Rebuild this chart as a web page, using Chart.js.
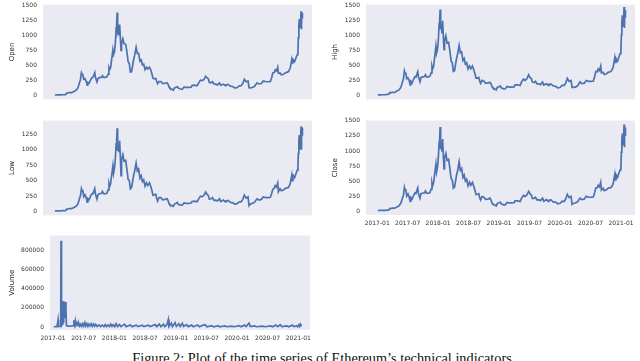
<!DOCTYPE html>
<html>
<head>
<title>Ethereum technical indicators</title>
<script src="https://cdn.jsdelivr.net/npm/chart.js"></script>
<style>
  body { margin: 0; background: #fff; width: 640px; height: 361px; overflow: hidden; position: relative; }
  canvas { position: absolute; }
  #caption { position: absolute; left: 0; width: 644px; top: 351px; text-align: center;
    font-family: "Liberation Serif", serif; font-size: 14.3px; line-height: 1; color: #111; white-space: nowrap; }
</style>
</head>
<body>
<canvas id="openChart" width="316" height="114" style="left:0;top:-5px"></canvas>
<canvas id="highChart" width="316" height="114" style="left:323px;top:-5px"></canvas>
<canvas id="lowChart" width="316" height="114" style="left:0;top:111px"></canvas>
<canvas id="closeChart" width="316" height="121" style="left:323px;top:111px"></canvas>
<canvas id="volumeChart" width="316" height="121" style="left:0;top:226px"></canvas>
<div id="caption">Figure 2: Plot of the time series of Ethereum’s technical indicators</div>
<script>
const priceDates = [
  "2017-01-05","2017-01-20","2017-02-05","2017-02-20","2017-03-01","2017-03-10","2017-03-16","2017-03-22","2017-04-01","2017-04-15",
  "2017-04-28","2017-05-10","2017-05-20","2017-05-26","2017-06-01","2017-06-06","2017-06-12","2017-06-16","2017-06-20","2017-06-26",
  "2017-07-03","2017-07-10","2017-07-16","2017-07-20","2017-07-28","2017-08-05","2017-08-14","2017-08-20","2017-08-31","2017-09-04",
  "2017-09-14","2017-09-20","2017-10-01","2017-10-12","2017-10-16","2017-10-25","2017-11-05","2017-11-12","2017-11-20","2017-11-25",
  "2017-11-29","2017-12-04","2017-12-12","2017-12-18","2017-12-22","2017-12-28","2018-01-02","2018-01-07","2018-01-10","2018-01-13",
  "2018-01-16","2018-01-19","2018-01-24","2018-01-28","2018-02-02","2018-02-06","2018-02-09","2018-02-17","2018-02-24","2018-03-03",
  "2018-03-10","2018-03-18","2018-03-25","2018-04-01","2018-04-08","2018-04-14","2018-04-20","2018-04-27","2018-05-05","2018-05-12",
  "2018-05-20","2018-05-28","2018-06-05","2018-06-12","2018-06-20","2018-06-28","2018-07-06","2018-07-14","2018-07-24","2018-08-02",
  "2018-08-10","2018-08-15","2018-08-24","2018-09-01","2018-09-06","2018-09-12","2018-09-20","2018-10-01","2018-10-11","2018-10-25",
  "2018-11-07","2018-11-14","2018-11-20","2018-11-25","2018-12-06","2018-12-14","2018-12-22","2019-01-01","2019-01-08","2019-01-14",
  "2019-01-28","2019-02-07","2019-02-18","2019-03-01","2019-03-15","2019-03-30","2019-04-05","2019-04-20","2019-05-05","2019-05-14",
  "2019-05-25","2019-06-05","2019-06-15","2019-06-26","2019-07-03","2019-07-12","2019-07-17","2019-07-28","2019-08-06","2019-08-15",
  "2019-08-25","2019-09-05","2019-09-18","2019-09-25","2019-10-10","2019-10-22","2019-10-26","2019-11-08","2019-11-22","2019-12-05",
  "2019-12-17","2020-01-01","2020-01-14","2020-01-25","2020-02-05","2020-02-14","2020-02-25","2020-03-06","2020-03-12","2020-03-20",
  "2020-04-01","2020-04-15","2020-04-29","2020-05-10","2020-05-25","2020-06-05","2020-06-20","2020-07-05","2020-07-18","2020-07-26",
  "2020-08-02","2020-08-12","2020-08-16","2020-08-24","2020-09-01","2020-09-05","2020-09-15","2020-09-23","2020-10-05","2020-10-15",
  "2020-10-28","2020-11-05","2020-11-15","2020-11-24","2020-11-26","2020-12-01","2020-12-11","2020-12-20","2020-12-27","2020-12-31",
  "2021-01-03","2021-01-06","2021-01-09","2021-01-11","2021-01-14","2021-01-17","2021-01-19","2021-01-21","2021-01-23","2021-01-25",
  "2021-01-27","2021-01-28"
];
const openValues = [
  8,10,11,12,15,18,40,43,50,49, 66,86,120,165,220,255,380,355,360,270,
  280,240,170,215,205,250,295,300,380,310, 225,280,300,300,330,300,300,310,355,460,
  430,460,630,760,680,730,860,1120,1180,1380, 1080,1120,1000,1180,950,750,850,940,860,850,
  740,560,530,390,395,490,590,670,800,700, 700,570,590,510,520,430,470,440,470,420,
  340,285,275,285,235,195,230,232,200,200, 212,185,140,120,105,88,125,135,148,125,
  108,104,140,136,134,138,165,172,162,205, 255,248,265,320,295,275,220,212,228,190,
  188,176,210,170,188,165,175,184,155,149, 125,129,160,162,200,270,230,240,130,128,
  133,153,210,192,198,240,232,228,234,300, 375,385,425,410,470,370,375,345,352,375,
  388,398,455,590,540,600,565,630,680,735, 960,1180,1270,1120,1200,1240,1400,1100,1220,1370,
  1280,1320
];
const highValues = [
  11,11,12,13,17,20,50,45,53,51, 73,92,130,180,232,270,410,370,380,280,
  295,250,175,235,210,265,310,305,395,320, 230,300,310,315,345,305,310,320,375,485,
  440,480,670,820,700,770,910,1190,1250,1430, 1100,1180,1030,1240,970,760,900,990,870,880,
  750,570,545,400,410,515,615,700,830,710, 725,580,615,520,540,440,490,445,490,425,
  345,290,290,300,240,200,250,236,205,205, 220,190,145,125,108,92,140,145,158,128,
  110,108,150,140,138,143,178,176,165,225, 270,252,278,345,300,280,225,215,235,193,
  195,180,222,174,195,168,185,190,158,152, 128,133,170,166,210,285,235,250,135,135,
  138,160,225,196,205,250,236,235,240,320, 400,395,440,415,488,375,385,350,360,385,
  395,410,470,615,550,620,570,650,700,750, 1010,1230,1330,1140,1250,1270,1470,1120,1250,1420,
  1290,1350
];
const lowValues = [
  8,10,10.5,12,15,18,38,40,48,46, 64,84,115,160,215,250,370,335,350,240,
  270,225,150,210,192,245,285,285,370,290, 200,275,290,295,325,285,290,295,350,450,
  405,450,615,740,620,710,850,1100,1150,1350, 980,1100,960,1150,870,580,830,920,815,830,
  700,520,500,365,385,480,580,660,785,660, 690,540,580,485,515,410,465,420,465,400,
  320,260,270,280,215,170,225,225,190,195, 208,175,125,105,96,82,120,132,145,115,
  102,102,138,132,131,136,162,166,157,200, 248,238,260,315,280,255,200,205,224,180,
  185,171,205,160,184,156,172,180,146,144, 118,127,156,156,196,265,218,236,95,122,
  130,150,205,185,195,236,225,225,230,295, 360,380,420,398,460,320,370,335,348,372,
  383,392,450,580,500,590,550,620,670,725, 940,1150,1240,1000,1180,1220,1380,1000,1200,1360,
  1230,1310
];
const closeValues = [
  10,10.5,11,12.5,16,19,45,42,50,48, 70,88,125,170,225,260,395,350,365,250,
  285,235,160,225,200,255,300,295,385,300, 215,290,300,305,335,295,300,305,365,470,
  420,465,650,780,650,740,880,1150,1200,1400, 1030,1150,990,1200,900,700,880,960,840,860,
  720,540,520,380,400,500,600,680,820,680, 710,560,600,500,530,420,480,430,480,410,
  330,275,280,290,225,185,240,230,195,200, 215,180,130,115,100,85,130,140,150,120,
  105,105,145,135,135,140,170,170,160,215, 260,245,270,330,290,265,210,210,230,185,
  190,175,215,165,190,160,180,185,150,148, 122,130,165,160,205,280,225,245,112,130,
  135,155,215,190,200,245,230,230,235,310, 385,390,430,405,480,350,380,340,355,380,
  390,400,460,600,520,610,560,640,690,740, 980,1200,1290,1090,1220,1250,1440,1060,1230,1390,
  1250,1330
];

const volumeDates = [
  "2017-01-05","2017-01-15","2017-01-25","2017-01-31","2017-02-03","2017-02-12","2017-02-16","2017-02-18","2017-02-21","2017-02-26",
  "2017-02-28","2017-03-03","2017-03-06","2017-03-10","2017-03-14","2017-03-17","2017-03-20","2017-03-30","2017-04-10","2017-04-22",
  "2017-04-30","2017-05-03","2017-05-08","2017-05-12","2017-05-16","2017-05-22","2017-05-28","2017-06-03","2017-06-08","2017-06-14",
  "2017-06-20","2017-06-26","2017-07-02","2017-07-08","2017-07-14","2017-07-20","2017-07-26","2017-08-01","2017-08-08","2017-08-15",
  "2017-08-22","2017-08-29","2017-09-05","2017-09-12","2017-09-20","2017-10-01","2017-10-10","2017-10-20","2017-10-30","2017-11-08",
  "2017-11-15","2017-11-25","2017-12-02","2017-12-10","2017-12-17","2017-12-25","2018-01-03","2018-01-12","2018-01-20","2018-02-01",
  "2018-02-10","2018-03-01","2018-03-10","2018-04-05","2018-04-15","2018-05-10","2018-05-20","2018-06-15","2018-06-25","2018-07-20",
  "2018-08-01","2018-09-01","2018-09-10","2018-09-25","2018-10-05","2018-10-20","2018-10-28","2018-11-10","2018-11-18","2018-11-22",
  "2018-12-05","2018-12-12","2018-12-28","2019-01-05","2019-01-20","2019-01-28","2019-02-10","2019-02-18","2019-03-05","2019-03-15",
  "2019-04-05","2019-04-15","2019-05-10","2019-05-20","2019-06-10","2019-06-25","2019-07-05","2019-08-01","2019-08-15","2019-09-10",
  "2019-09-20","2019-10-20","2019-11-01","2019-12-01","2019-12-15","2020-01-15","2020-01-25","2020-02-15","2020-02-25","2020-03-12",
  "2020-03-20","2020-04-15","2020-04-25","2020-06-01","2020-06-15","2020-07-20","2020-07-30","2020-08-20","2020-09-01","2020-09-15",
  "2020-09-25","2020-10-25","2020-11-05","2020-11-26","2020-12-05","2020-12-20","2020-12-28","2021-01-05","2021-01-10","2021-01-15",
  "2021-01-20"
];
const volumeValues = [
  5000,3000,6000,75000,5000,8000,20000,900000,15000,30000,
  270000,40000,265000,90000,260000,180000,15000,10000,8000,12000,
  15000,70000,25000,65000,20000,45000,15000,35000,10000,30000,
  8000,35000,10000,45000,12000,35000,8000,30000,10000,35000,
  8000,30000,8000,28000,6000,22000,5000,20000,5000,25000,
  5000,22000,5000,30000,6000,25000,5000,35000,5000,25000,
  4000,30000,4000,22000,4000,20000,4000,18000,4000,20000,
  4000,25000,4000,30000,4000,30000,5000,25000,80000,6000,
  40000,5000,45000,6000,35000,5000,38000,5000,25000,4000,
  20000,3000,22000,3000,18000,25000,3000,15000,3000,14000,
  3000,12000,3000,10000,3000,15000,3000,20000,4000,40000,
  5000,12000,3000,10000,3000,12000,3000,20000,4000,25000,
  4000,12000,3000,20000,4000,12000,3000,25000,6000,28000,
  8000
];

const xTickMonths = [0, 6, 12, 18, 24, 30, 36, 42, 48];
const priceTicks = [0, 250, 500, 750, 1000, 1250, 1500];
const volumeTicks = [0, 200000, 400000, 600000, 800000];

function toMonths(s) {
  const [y, m, d] = s.split("-").map(Number);
  return (y - 2017) * 12 + (m - 1) + (d - 1) / 30.5;
}
function monthLabel(v) {
  const y = 2017 + Math.floor(v / 12);
  const m = (v % 12) + 1;
  return y + "-" + String(m).padStart(2, "0");
}

const areaBg = {
  id: "areaBg",
  beforeDraw(chart) {
    const a = chart.chartArea, ctx = chart.ctx;
    ctx.save();
    ctx.fillStyle = "#eaeaf2";
    ctx.fillRect(a.left, a.top, a.right - a.left, a.bottom - a.top);
    ctx.restore();
  }
};

const tickFont = { family: "DejaVu Sans", size: 6 };

function panel(id, dates, values, label, o) {
  const pts = dates.map((d, i) => ({ x: toMonths(d), y: values[i] }));
  new Chart(document.getElementById(id), {
    type: "line",
    data: { datasets: [{ data: pts, borderColor: "#4c72b0", borderWidth: 1.7, pointRadius: 0, tension: 0, fill: false }] },
    options: {
      responsive: false, animation: false, devicePixelRatio: 1,
      layout: { padding: { top: 8, right: 4, bottom: o.showX ? 0 : 4, left: 0 } },
      plugins: { legend: { display: false }, tooltip: { enabled: false } },
      scales: {
        x: {
          type: "linear", min: o.xMin, max: o.xMax, display: o.showX,
          grid: { display: false, drawTicks: false }, border: { display: false },
          afterBuildTicks: s => { s.ticks = xTickMonths.map(v => ({ value: v })); },
          afterFit: s => { if (o.showX) s.height = 17; },
          ticks: { font: tickFont, color: "#333", padding: 5, maxRotation: 0, autoSkip: false, callback: v => monthLabel(v) }
        },
        y: {
          min: o.yMin, max: o.yMax,
          grid: { display: false, drawTicks: false }, border: { display: false },
          afterBuildTicks: s => { s.ticks = o.ticks.filter(v => v <= o.yMax).map(v => ({ value: v })); },
          afterFit: s => { s.width = o.yWidth; },
          ticks: { font: tickFont, color: "#333", padding: 6, autoSkip: false, callback: v => String(v) },
          title: { display: true, text: label, font: { family: "DejaVu Sans", size: 7 }, color: "#222", padding: { top: 8, bottom: 0 } }
        }
      }
    },
    plugins: [areaBg]
  });
}

const priceX = { xMin: -2.2, xMax: 50.75, ticks: priceTicks, yWidth: 43 };
panel("openChart", priceDates, openValues, "Open", { ...priceX, yMin: -65, yMax: 1510, showX: false });
panel("highChart", priceDates, highValues, "High", { ...priceX, yMin: -65, yMax: 1510, showX: false });
panel("lowChart", priceDates, lowValues, "Low", { ...priceX, yMin: -64, yMax: 1474, showX: false });
panel("closeChart", priceDates, closeValues, "Close", { ...priceX, yMin: -65, yMax: 1505, showX: true });
panel("volumeChart", volumeDates, volumeValues, "Volume", { xMin: -0.6, xMax: 50.3, ticks: volumeTicks, yWidth: 50, yMin: -31000, yMax: 954000, showX: true });
</script>
</body>
</html>
